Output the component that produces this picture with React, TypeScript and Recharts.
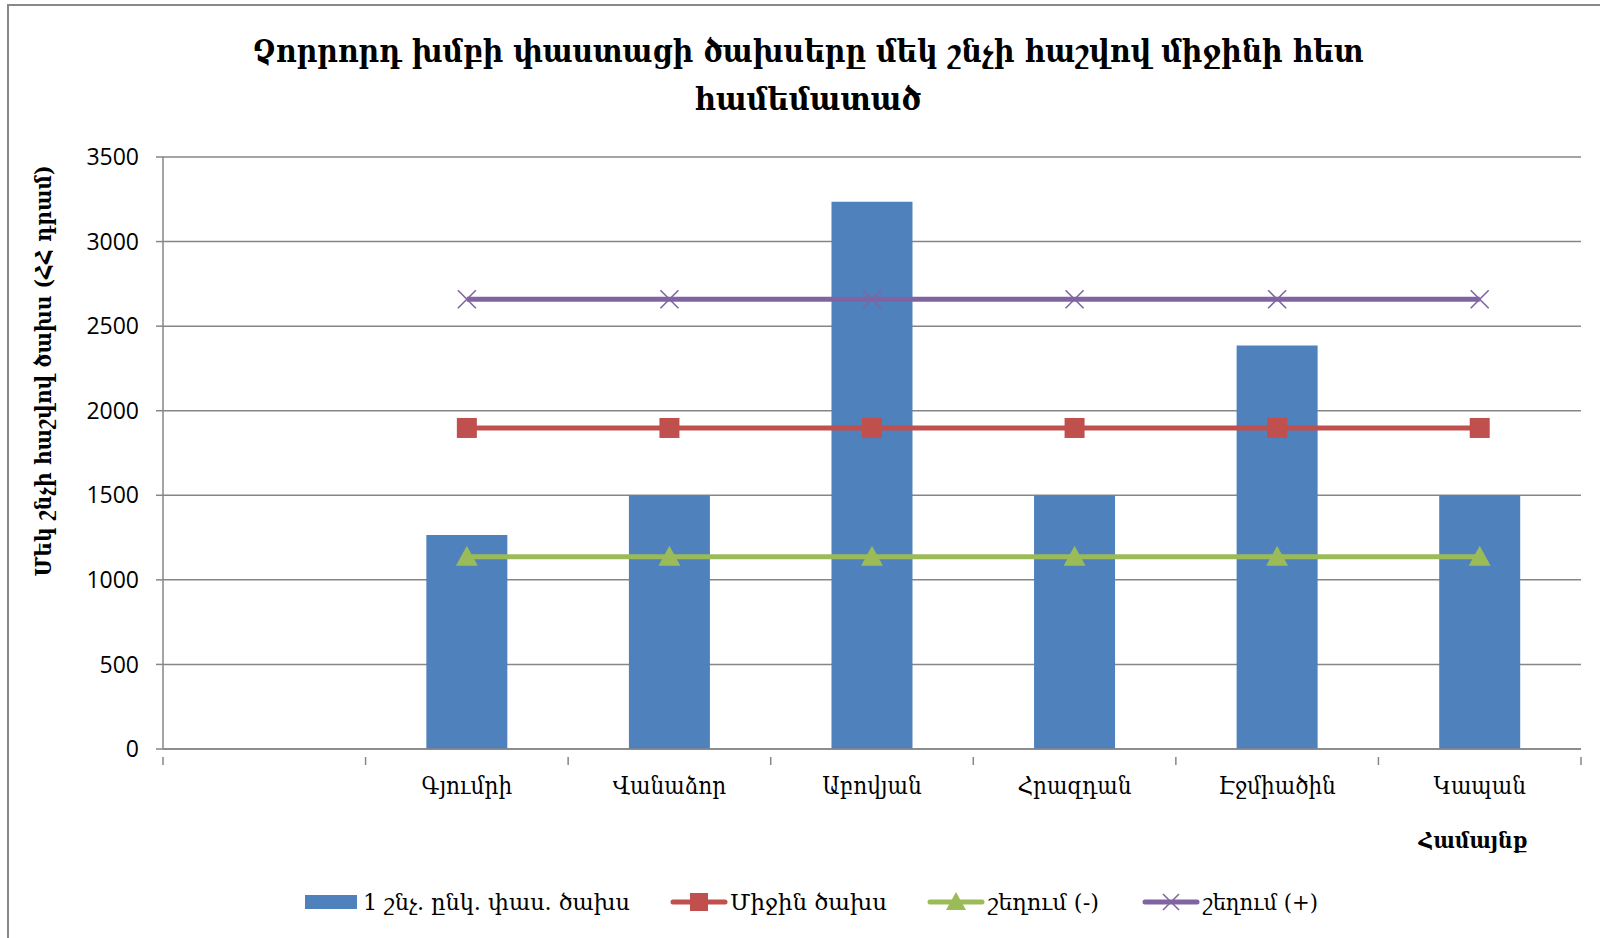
import React from 'react';
import {
  ComposedChart,
  Bar,
  Line,
  XAxis,
  YAxis,
  CartesianGrid,
  Legend,
} from 'recharts';

const categories = ['', 'Գյումրի', 'Վանաձոր', 'Աբովյան', 'Հրազդան', 'Էջմիածին', 'Կապան'];
const costPerCapita = [null, 1265, 1500, 3235, 1500, 2385, 1500];
const averageCost = [null, 1898, 1898, 1898, 1898, 1898, 1898];
const deviationMinus = [null, 1137, 1137, 1137, 1137, 1137, 1137];
const deviationPlus = [null, 2659, 2659, 2659, 2659, 2659, 2659];
const yTicks = [0, 500, 1000, 1500, 2000, 2500, 3000, 3500];

const seriesNames = ['1 շնչ. ընկ. փաս. ծախս', 'Միջին ծախս', 'շեղում (-)', 'շեղում (+)'];
const titleLines = ['Չորրորդ խմբի փաստացի ծախսերը մեկ շնչի հաշվով միջինի հետ', 'համեմատած'];
const yAxisTitle = 'Մեկ շնչի հաշվով ծախս (ՀՀ դրամ)';
const xAxisTitle = 'Համայնք';

const data = categories.map((c, i) => ({
  name: c,
  cost: costPerCapita[i],
  mean: averageCost[i],
  minus: deviationMinus[i],
  plus: deviationPlus[i],
}));

const BLUE = '#4F81BD';
const RED = '#C0504D';
const GREEN = '#9BBB59';
const PURPLE = '#8064A2';
const GRID = '#868686';
const ARM = "'DejaVu Serif Condensed', 'DejaVu Serif', serif";
const NUM = "'Open Sans', 'Liberation Sans', sans-serif";

const CHART_W = 1600;
const CHART_H = 938;
const MARGIN = { top: 157, right: 19, bottom: 149, left: 80 };
const Y_W = 83;
const PLOT_W = CHART_W - MARGIN.left - Y_W - MARGIN.right;
const BAND = PLOT_W / categories.length;

const SquareDot = (p: any) => {
  if (p.value == null || p.cy == null) return <g key={`sq-${p.index}`} />;
  return <rect key={`sq-${p.index}`} x={p.cx - 10} y={p.cy - 10} width={20} height={20} fill={RED} />;
};
const TriangleDot = (p: any) => {
  if (p.value == null || p.cy == null) return <g key={`tr-${p.index}`} />;
  const { cx, cy } = p;
  return (
    <polygon
      key={`tr-${p.index}`}
      points={`${cx},${cy - 11} ${cx + 11},${cy + 9} ${cx - 11},${cy + 9}`}
      fill={GREEN}
    />
  );
};
const CrossDot = (p: any) => {
  if (p.value == null || p.cy == null) return <g key={`x-${p.index}`} />;
  const { cx, cy } = p;
  return (
    <g key={`x-${p.index}`} stroke={PURPLE} strokeWidth={1.6}>
      <line x1={cx - 9} y1={cy - 9} x2={cx + 9} y2={cy + 9} />
      <line x1={cx - 9} y1={cy + 9} x2={cx + 9} y2={cy - 9} />
    </g>
  );
};

const XTick = (p: any) => {
  const { x, y, payload, index } = p;
  const half = BAND / 2;
  const isLast = index === categories.length - 1;
  return (
    <g>
      <line x1={x - half} y1={y} x2={x - half} y2={y + 8} stroke={GRID} strokeWidth={1.5} />
      {isLast && <line x1={x + half} y1={y} x2={x + half} y2={y + 8} stroke={GRID} strokeWidth={1.5} />}
      <text
        x={x}
        y={y + 29}
        textAnchor="middle"
        dominantBaseline="central"
        fontFamily={ARM}
        fontSize={24}
        fill="#000"
      >
        {payload.value}
      </text>
    </g>
  );
};

const renderLegend = () => {
  const items = [
    { kind: 'rect', color: BLUE, x: 305, tx: 363, tl: 267 },
    { kind: 'square', color: RED, x: 673, tx: 730, tl: 157 },
    { kind: 'triangle', color: GREEN, x: 930, tx: 988, tl: 111 },
    { kind: 'cross', color: PURPLE, x: 1145, tx: 1203, tl: 115 },
  ];
  return (
    <svg width={1600} height={44} style={{ display: 'block' }}>
      {items.map((it, i) => {
        const cy = 22;
        let icon: any = null;
        if (it.kind === 'rect') {
          icon = <rect x={it.x} y={cy - 7} width={52} height={14} fill={it.color} />;
        } else {
          const mx = it.x + 26;
          let marker: any = null;
          if (it.kind === 'square') marker = <rect x={mx - 9} y={cy - 9} width={18} height={18} fill={it.color} />;
          if (it.kind === 'triangle')
            marker = <polygon points={`${mx},${cy - 10} ${mx + 10},${cy + 8} ${mx - 10},${cy + 8}`} fill={it.color} />;
          if (it.kind === 'cross')
            marker = (
              <g stroke={it.color} strokeWidth={1.6}>
                <line x1={mx - 8} y1={cy - 8} x2={mx + 8} y2={cy + 8} />
                <line x1={mx - 8} y1={cy + 8} x2={mx + 8} y2={cy - 8} />
              </g>
            );
          icon = (
            <g>
              <line x1={it.x} y1={cy} x2={it.x + 52} y2={cy} stroke={it.color} strokeWidth={5} strokeLinecap="round" />
              {marker}
            </g>
          );
        }
        return (
          <g key={i}>
            {icon}
            <text
              x={it.tx}
              y={cy}
              dominantBaseline="central"
              fontFamily={ARM}
              fontSize={22}
              textLength={it.tl}
              lengthAdjust="spacingAndGlyphs"
              fill="#000"
            >
              {seriesNames[i]}
            </text>
          </g>
        );
      })}
    </svg>
  );
};

export default function App() {
  return (
    <div style={{ position: 'absolute', left: 0, top: 0, width: CHART_W, height: CHART_H, background: '#fff', overflow: 'hidden' }}>
      <div
        style={{
          position: 'absolute',
          left: 7,
          top: 4,
          width: 1700,
          height: 1000,
          borderLeft: '2px solid #898989',
          borderTop: '2px solid #898989',
        }}
      />
      <ComposedChart width={CHART_W} height={CHART_H} data={data} margin={MARGIN} barCategoryGap="30%">
        <CartesianGrid vertical={false} stroke={GRID} strokeWidth={1.5} />
        <XAxis
          dataKey="name"
          interval={0}
          tickLine={false}
          axisLine={{ stroke: GRID, strokeWidth: 1.5 }}
          tick={<XTick />}
          height={40}
        />
        <YAxis
          width={Y_W}
          domain={[0, 3500]}
          ticks={yTicks}
          interval={0}
          axisLine={{ stroke: GRID, strokeWidth: 1.5 }}
          tickLine={{ stroke: GRID, strokeWidth: 1.5 }}
          tickSize={7}
          tickMargin={17}
          tick={{ fontFamily: NUM, fontSize: 23, fill: '#000' }}
        />
        <Bar dataKey="cost" name={seriesNames[0]} fill={BLUE} isAnimationActive={false} />
        <Line
          dataKey="mean"
          name={seriesNames[1]}
          stroke={RED}
          strokeWidth={5}
          dot={SquareDot}
          activeDot={false}
          isAnimationActive={false}
        />
        <Line
          dataKey="minus"
          name={seriesNames[2]}
          stroke={GREEN}
          strokeWidth={5}
          dot={TriangleDot}
          activeDot={false}
          isAnimationActive={false}
        />
        <Line
          dataKey="plus"
          name={seriesNames[3]}
          stroke={PURPLE}
          strokeWidth={5}
          dot={CrossDot}
          activeDot={false}
          isAnimationActive={false}
        />
        <Legend
          layout="horizontal"
          verticalAlign="middle"
          align="center"
          content={renderLegend}
          wrapperStyle={{ position: 'absolute', left: 0, top: 880, width: 1600, height: 44 }}
        />
      </ComposedChart>
      <svg width={CHART_W} height={CHART_H} style={{ position: 'absolute', left: 0, top: 0, pointerEvents: 'none' }}>
        <text
          x={808}
          y={51}
          textAnchor="middle"
          dominantBaseline="central"
          fontFamily={ARM}
          fontWeight="bold"
          fontSize={32}
          textLength={1111}
          lengthAdjust="spacingAndGlyphs"
          fill="#000"
        >
          {titleLines[0]}
        </text>
        <text
          x={808}
          y={99}
          textAnchor="middle"
          dominantBaseline="central"
          fontFamily={ARM}
          fontWeight="bold"
          fontSize={32}
          textLength={227}
          lengthAdjust="spacingAndGlyphs"
          fill="#000"
        >
          {titleLines[1]}
        </text>
        <text
          x={43}
          y={371}
          transform="rotate(-90 43 371)"
          textAnchor="middle"
          dominantBaseline="central"
          fontFamily={ARM}
          fontWeight="bold"
          fontSize={22}
          textLength={411}
          lengthAdjust="spacingAndGlyphs"
          fill="#000"
        >
          {yAxisTitle}
        </text>
        <text
          x={1473}
          y={840}
          textAnchor="middle"
          dominantBaseline="central"
          fontFamily={ARM}
          fontWeight="bold"
          fontSize={22}
          textLength={109}
          lengthAdjust="spacingAndGlyphs"
          fill="#000"
        >
          {xAxisTitle}
        </text>
      </svg>
    </div>
  );
}
